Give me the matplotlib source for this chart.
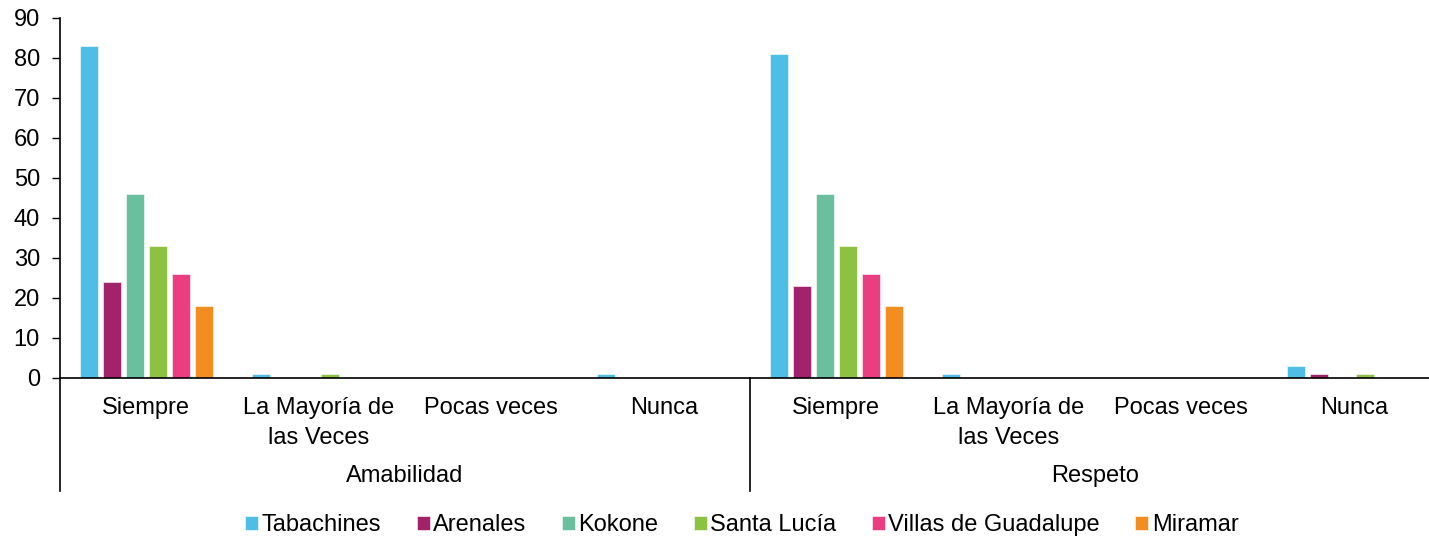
import matplotlib
matplotlib.use("Agg")
import matplotlib.pyplot as plt
import numpy as np

plt.rcParams['font.family'] = ['Liberation Sans', 'DejaVu Sans']

groups = ["Amabilidad", "Respeto"]
categories = ["Siempre", "La Mayoría de\nlas Veces", "Pocas veces", "Nunca"]
series = ["Tabachines", "Arenales", "Kokone", "Santa Lucía", "Villas de Guadalupe", "Miramar"]
colors = ["#4FBEE6", "#A2236B", "#69BF9E", "#8CC142", "#EA3E81", "#F28D21"]

tabachines = [83, 1, 0, 1, 81, 1, 0, 3]
arenales = [24, 0, 0, 0, 23, 0, 0, 1]
kokone = [46, 0, 0, 0, 46, 0, 0, 0]
santa_lucia = [33, 1, 0, 0, 33, 0, 0, 1]
villas = [26, 0, 0, 0, 26, 0, 0, 0]
miramar = [18, 0, 0, 0, 18, 0, 0, 0]
values = [tabachines, arenales, kokone, santa_lucia, villas, miramar]

yticks = [0, 10, 20, 30, 40, 50, 60, 70, 80, 90]

W, H = 1429, 539
fig = plt.figure(figsize=(W / 100, H / 100), dpi=100)
left, right, top, bottom = 60, 1440, 18, 378
ax = fig.add_axes([left / W, 1 - bottom / H, (right - left) / W, (bottom - top) / H])

n_cat = len(groups) * len(categories)
x = np.arange(n_cat)
step = 0.133
bw = 0.104
for j, (name, vals, c) in enumerate(zip(series, values, colors)):
    ax.bar(x + (j - 2.5) * step, vals, width=bw, color=c, label=name,
           edgecolor='white', linewidth=0.4)

FS = 17
ax.set_xlim(-0.5, n_cat - 0.5)
ax.set_ylim(0, 90)
ax.set_yticks(yticks)
ax.tick_params(axis='y', direction='out', length=5.5, width=1, labelsize=FS, pad=9)
ax.set_xticks([])
for s in ['top', 'right']:
    ax.spines[s].set_visible(False)
ax.spines['left'].set_linewidth(1.2)
ax.spines['bottom'].set_linewidth(1.2)

trans = ax.get_xaxis_transform()
ph = bottom - top
def yf(py):
    return (bottom - py) / ph

for i in range(n_cat):
    ax.text(i, yf(397), categories[i % 4], transform=trans, ha='center', va='top',
            fontsize=FS, linespacing=1.45)
for g, name in enumerate(groups):
    ax.text(g * 4 + 1.5, yf(476), name, transform=trans, ha='center', va='center', fontsize=FS)
for b in [-0.5, 3.5, 7.5]:
    ax.plot([b, b], [0, yf(491)], transform=trans, color='black', lw=1.2, clip_on=False)

fig.legend(loc='center', bbox_to_anchor=(742 / W, 1 - 525 / H), ncol=6, frameon=False,
           fontsize=FS, handlelength=0.55, handleheight=0.55, handletextpad=0.15,
           columnspacing=1.5, borderaxespad=0)

fig.savefig("out.png", dpi=100)
